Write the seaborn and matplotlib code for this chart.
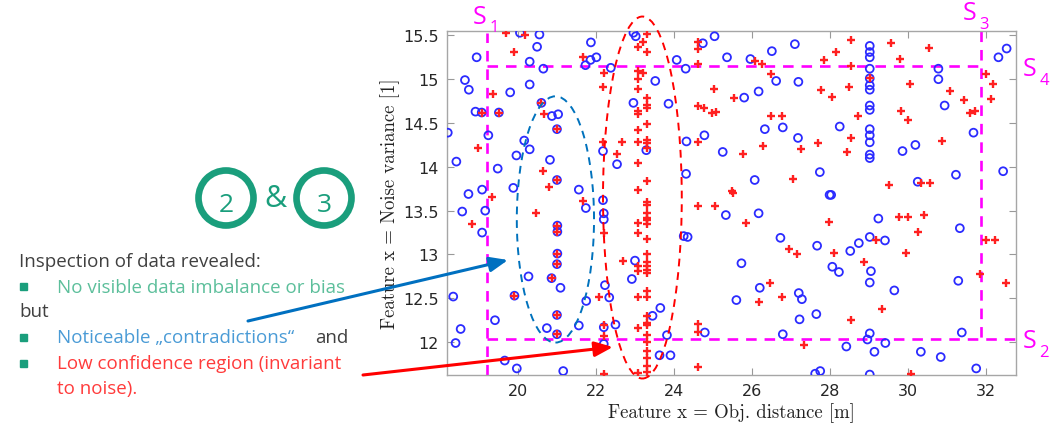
import numpy as np
import pandas as pd
import seaborn as sns
import matplotlib.pyplot as plt
from matplotlib.patches import Ellipse, Circle, Rectangle

# class "o" (blue circles)
blue_x = [20.05, 20.55, 21.87, 20.49, 18.94, 20.30, 20.65, 21.73, 21.86, 22.01, 22.38,
          18.64, 18.74, 19.80, 20.30, 18.91, 19.07, 19.51, 20.60, 20.87, 21.03, 21.00,
          18.20, 19.24, 20.16, 20.30, 19.96, 18.42, 20.82, 19.48, 21.00, 21.56, 19.88,
          19.08, 18.73, 22.18, 22.54, 22.18, 22.96, 22.96, 23.02,
          24.74, 25.04, 25.36, 25.96, 26.51, 27.10, 24.07, 24.30, 23.52, 26.62, 27.19,
          26.17, 25.80, 23.86, 26.33, 26.79, 27.18, 24.78, 24.32, 23.29, 25.25, 24.31,
          26.07, 27.74, 27.99,
          29.02, 29.02, 29.02, 29.02, 29.02, 29.02, 29.02, 29.02, 29.02, 29.02, 29.02,
          29.02, 29.02, 29.02,
          30.78, 30.78, 30.94, 28.25, 31.68, 30.19, 29.86, 31.23, 32.44, 30.25, 28.03,
          32.32, 32.53,
          18.57, 19.16, 19.08, 21.74, 22.20, 22.20, 21.01, 21.01, 21.01, 21.00, 20.86,
          20.27, 21.09, 19.91, 18.34, 21.75, 22.23, 22.34, 21.00, 19.41, 18.53, 18.40,
          20.74, 21.00, 21.56, 22.20, 22.50, 22.20, 23.00, 22.92, 19.66, 19.97, 21.16,
          25.33, 26.17, 24.25, 24.35, 26.73, 27.67, 25.73, 26.20, 25.60, 27.20, 27.28,
          27.65, 27.22, 23.65, 23.45, 23.82, 23.63, 23.91, 24.79, 26.79, 27.62, 27.75,
          29.24, 29.02, 29.41, 28.74, 28.52, 28.06, 28.23, 29.05, 29.02, 29.65, 31.33,
          31.29, 29.02, 28.96, 31.38, 28.42, 29.42, 29.14, 30.33, 30.84, 31.75, 29.02]
blue_y = [15.53, 15.51, 15.42, 15.37, 15.25, 15.20, 15.12, 15.16, 15.22, 15.25, 15.13,
          14.99, 14.88, 14.85, 14.94, 14.63, 14.62, 14.62, 14.73, 14.58, 14.60, 14.43,
          14.39, 14.36, 14.30, 14.20, 14.13, 14.06, 14.08, 13.98, 13.85, 13.74, 13.76,
          13.74, 13.69, 14.18, 14.03, 13.62, 14.73, 15.53, 15.49,
          15.41, 15.49, 15.25, 15.23, 15.32, 15.40, 15.22, 15.12, 14.98, 14.98, 14.97,
          14.86, 14.79, 14.72, 14.43, 14.45, 14.33, 14.36, 14.29, 14.19, 14.17, 13.92,
          13.85, 13.94, 13.68,
          15.38, 15.31, 15.25, 15.12, 15.01, 14.93, 14.88, 14.70, 14.65, 14.43, 14.36,
          14.28, 14.14, 14.10,
          15.12, 15.00, 14.70, 14.46, 14.39, 14.25, 14.18, 13.91, 13.95, 13.83, 13.68,
          15.25, 15.35,
          13.49, 13.50, 13.25, 13.53, 13.47, 13.40, 13.33, 13.26, 13.01, 12.89, 12.73,
          12.75, 12.62, 12.53, 12.52, 12.47, 12.65, 12.51, 12.31, 12.25, 12.15, 11.99,
          12.16, 12.09, 12.19, 12.17, 12.20, 11.98, 12.93, 12.72, 11.79, 11.70, 11.67,
          13.45, 13.47, 13.21, 13.20, 13.19, 13.10, 12.90, 12.62, 12.48, 12.56, 12.49,
          12.32, 12.26, 12.39, 12.30, 12.08, 11.85, 11.85, 12.11, 12.09, 11.64, 11.67,
          13.41, 13.20, 13.16, 13.13, 13.04, 12.86, 12.80, 12.81, 12.68, 12.59, 13.30,
          12.70, 12.10, 12.03, 12.11, 11.95, 11.99, 11.89, 11.89, 11.83, 11.70, 11.63]

# class "+" (red pluses)
red_x = [19.69, 20.19, 19.91, 21.67, 19.36, 20.68, 18.97, 20.63, 20.80, 19.33, 21.67,
         22.21, 22.18, 22.18, 22.68, 22.55,
         23.09, 23.09, 23.09, 23.09, 23.09, 23.09, 23.09, 23.09, 23.09, 23.09, 23.09,
         23.09, 23.09, 23.09, 23.09, 23.09, 23.09,
         23.32, 23.32, 23.32, 23.32, 23.32, 23.32, 23.32, 23.32, 23.32, 23.32, 23.32,
         23.32, 23.32, 23.32, 23.32, 23.32, 23.32, 23.32, 23.32, 23.32, 23.32, 23.32,
         23.32, 23.32, 23.32, 23.32, 23.32, 23.32, 23.32, 23.32, 23.32, 23.32, 23.32,
         23.21, 23.20,
         24.62, 24.62, 24.62, 25.02, 25.53, 24.62, 24.76, 24.98, 25.09, 26.09, 26.26,
         26.50, 26.50, 26.76, 24.62, 26.28, 25.78, 27.25, 27.69, 27.76, 27.84, 27.05,
         25.48, 25.52, 24.62, 25.06,
         28.54, 28.16, 28.54, 29.56, 30.55, 29.79, 29.02, 28.50, 28.05, 30.04, 31.08,
         31.44, 28.71, 29.83, 30.00, 31.60, 31.72, 32.00, 32.18, 32.13, 28.55, 28.44,
         30.86, 29.52, 30.33, 30.56,
         18.81, 20.45, 22.20, 22.08, 22.20, 22.20, 22.20, 22.70,
         25.85, 27.97, 26.95, 27.15, 26.47, 26.76, 26.18, 24.62, 24.62, 24.62, 27.34,
         29.76, 30.00, 30.40, 30.25, 29.17, 28.11, 29.95, 28.86, 29.34, 28.54, 32.01,
         32.23, 31.85, 32.52, 30.09,
         19.07, 19.51, 20.60, 21.00, 21.00, 21.01, 21.01, 21.01, 21.00, 20.86, 19.91,
         21.00, 21.00]
red_y = [15.53, 15.51, 15.31, 15.25, 14.83, 14.60, 14.21, 13.95, 13.77, 13.66, 13.61,
         15.07, 14.91, 14.28, 14.28, 14.15,
         15.37, 15.09, 15.00, 14.89, 14.64, 14.60, 14.42, 14.28, 14.04, 13.74, 13.36,
         13.25, 12.87, 12.81, 12.51, 12.16, 11.65,
         15.52, 15.31, 14.79, 14.70, 14.67, 14.49, 14.31, 14.27, 14.22, 13.84, 13.60,
         13.56, 13.47, 13.42, 13.39, 13.35, 13.18, 13.01, 12.92, 12.87, 12.82, 12.79,
         12.58, 12.51, 12.30, 12.22, 12.19, 12.08, 12.00, 11.90, 11.82, 11.73, 11.66,
         15.43, 15.07,
         15.42, 15.35, 15.17, 14.89, 14.79, 14.69, 14.67, 14.61, 14.63, 15.21, 15.17,
         15.06, 14.58, 14.58, 14.28, 14.24, 14.15, 14.20, 14.27, 14.88, 15.22, 13.86,
         13.73, 13.70, 13.55, 13.55,
         15.45, 15.31, 15.15, 15.41, 15.36, 15.23, 15.01, 14.91, 14.80, 14.95, 14.86,
         14.76, 14.58, 14.64, 14.53, 14.61, 14.64, 15.06, 14.95, 14.77, 14.33, 14.17,
         14.29, 13.79, 13.81, 13.81,
         13.35, 13.47, 13.24, 12.51, 12.20, 12.07, 11.64, 12.93,
         13.36, 13.37, 13.06, 13.00, 12.68, 12.51, 12.46, 12.21, 12.11, 11.72, 11.97,
         13.43, 13.43, 13.45, 13.26, 13.16, 13.02, 13.02, 12.91, 12.38, 12.25, 13.16,
         13.16, 12.78, 12.67, 11.64,
         14.62, 14.62, 14.73, 14.43, 13.85, 13.33, 13.26, 13.01, 12.89, 12.73, 12.53,
         12.31, 12.09]

x_ticks = [20, 22, 24, 26, 28, 30, 32]
y_ticks = [12, 12.5, 13, 13.5, 14, 14.5, 15, 15.5]

sns.set_style("white")
plt.rcParams['font.family'] = ['DejaVu Sans']

W, H = 1051, 431
fig = plt.figure(figsize=(W / 100, H / 100), dpi=100)
ax = fig.add_axes([447 / W, 1 - 376 / H, (1016 - 447) / W, (376 - 32) / H])

df_blue = pd.DataFrame({'x': blue_x, 'y': blue_y})
df_red = pd.DataFrame({'x': red_x, 'y': red_y})
sns.scatterplot(data=df_blue, x='x', y='y', ax=ax, marker='o', s=32,
                facecolor='none', edgecolor='#2b2bff', linewidth=1.3, zorder=3)
sns.scatterplot(data=df_red, x='x', y='y', ax=ax, marker='+', s=30,
                color='#ff2020', linewidth=1.7, zorder=4)

ax.set_xlim(18.18, 32.77)
ax.set_ylim(11.625, 15.55)
ax.set_xticks(x_ticks)
ax.set_yticks(y_ticks)
ax.set_xticklabels([str(t) for t in x_ticks])
ax.set_yticklabels([f'{t:g}' for t in y_ticks])
ax.tick_params(direction='in', length=5, width=0.8, color='#999999',
               labelsize=11.5, labelcolor='#262626', top=True, right=True,
               bottom=True, left=True, pad=6)
for sp in ax.spines.values():
    sp.set_color('#a6a6a6')
    sp.set_linewidth(1.0)
ax.set_xlabel('Feature x = Obj. distance [m]', family='cmr10', fontsize=13.5,
              color='#222222', labelpad=3)
ax.set_ylabel('Feature x = Noise variance [1]', family='cmr10', fontsize=13.5,
              color='#222222', labelpad=2)

# S-region boundaries
mag = '#ff00ff'
dash = dict(color=mag, lw=1.9, ls=(0, (4, 3)), clip_on=False, zorder=2)
ax.plot([19.21, 19.21], [11.625, 15.53], **dash)
ax.plot([19.21, 31.87], [15.15, 15.15], **dash)
ax.plot([31.87, 31.87], [15.55, 12.04], **dash)
ax.plot([19.21, 32.9], [12.04, 12.04], **dash)

# ellipses
ax.add_patch(Ellipse((20.96, 13.40), 1.98, 2.81, fill=False, ec='#0072bd',
                     lw=1.4, ls=(0, (4, 3)), zorder=5, clip_on=False))
ax.add_patch(Ellipse((23.19, 13.65), 2.02, 4.13, fill=False, ec='#ff0000',
                     lw=1.4, ls=(0, (4, 3)), zorder=5, clip_on=False))

# overlay in pixel coordinates
ov = fig.add_axes([0, 0, 1, 1], zorder=10)
ov.set_xlim(0, W)
ov.set_ylim(H, 0)
ov.axis('off')
ov.patch.set_alpha(0)

for sx, sy, sub in [(480, 17, '1'), (970, 14, '3'), (1030, 70, '4'), (1030, 342, '2')]:
    ov.text(sx, sy, 'S', color=mag, fontsize=18, ha='center', va='center',
            family='Open Sans')
    ov.text(sx + 14, sy + 11, sub, color=mag, fontsize=12, ha='center', va='center',
            family='Open Sans')

teal = '#1a9e7c'
for cx, num in [(226, '2'), (324, '3')]:
    ov.add_patch(Circle((cx, 199), 27.5, fill=False, ec=teal, lw=4.8))
    ov.text(cx, 206, num, color=teal, fontsize=19, ha='center', va='center',
            family='Open Sans')
ov.text(275, 199, '&', color=teal, fontsize=22, ha='center', va='center',
        family='Open Sans')

txt = dict(fontsize=13.5, va='center', ha='left', family='Open Sans')
ov.text(19, 262, 'Inspection of data revealed:', color='#404040', **txt)
ov.text(19, 312, 'but', color='#404040', **txt)
ov.text(57, 288, 'No visible data imbalance or bias', color='#5cbf9b', **txt)
ov.text(57, 338, 'Noticeable \u201econtradictions\u201c', color='#4a9bd6', **txt)
ov.text(315, 338, 'and', color='#404040', **txt)
ov.text(57, 364, 'Low confidence region (invariant', color='#ff3b3b', **txt)
ov.text(57, 389, 'to noise).', color='#ff3b3b', **txt)
for by in [287, 338, 364]:
    ov.add_patch(Rectangle((20, by - 3.5), 7, 7, color=teal))

ov.annotate('', xy=(508, 261), xytext=(248, 322),
            arrowprops=dict(arrowstyle='-|>,head_length=1.1,head_width=0.45',
                            color='#0070c0', lw=2.2, shrinkA=0, shrinkB=0))
ov.annotate('', xy=(613, 348), xytext=(363, 376),
            arrowprops=dict(arrowstyle='-|>,head_length=1.1,head_width=0.45',
                            color='#ff0000', lw=2.2, shrinkA=0, shrinkB=0))

fig.savefig('out.png', dpi=100)
